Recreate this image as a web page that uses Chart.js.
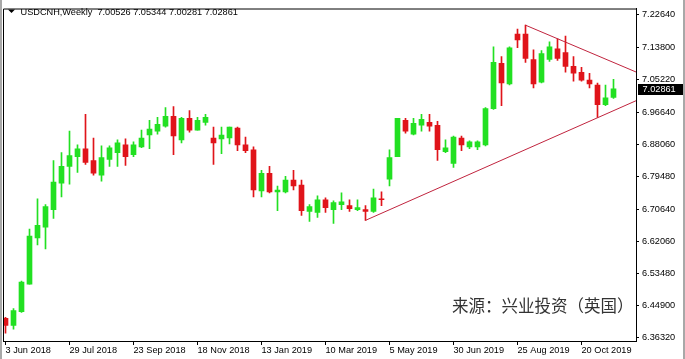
<!DOCTYPE html>
<html><head><meta charset="utf-8">
<script src="https://cdn.jsdelivr.net/npm/chart.js@4/dist/chart.umd.min.js"></script>
<style>html,body{margin:0;padding:0;background:#fff;overflow:hidden}#wrap{width:685px;height:359px;position:relative}</style>
</head><body><div id="wrap"><canvas id="c" width="685" height="359"></canvas></div>
<script>
// Weekly USDCNH candles, week of 3 Jun 2018 onward (index 0 = 3 Jun 2018)
const opens = [6.4148,6.3965,6.4332,6.5066,6.6297,6.6585,6.7057,6.7765,6.8210,6.8472,
6.8682,6.8368,6.7974,6.8394,6.8577,6.8787,6.8525,6.8734,6.9049,6.9154,
6.9285,6.9547,6.8918,6.9494,6.9180,6.9389,6.8970,6.8944,6.8970,6.9232,
6.8787,6.8656,6.7555,6.8027,6.7529,6.7529,6.7843,6.7712,6.7005,6.6979,
6.7319,6.7057,6.7188,6.7162,6.7057,6.7057,6.7005,6.7346,6.7870,6.8472,
6.9442,6.9075,6.9311,6.9389,6.9311,6.8603,6.8289,6.8970,6.8734,6.8734,
6.8787,6.9756,7.0962,7.0412,7.1748,7.1748,7.1066,7.0464,7.1066,7.1355,
7.1250,7.0883,7.0726,7.0516,7.0385,6.9861,7.00526];
const highs = [6.4175,6.4411,6.5144,6.6533,6.7346,6.7188,6.8368,6.8577,6.9154,6.8787,
6.9599,6.8970,6.8761,6.8761,6.8918,6.8944,6.8865,6.9180,6.9442,6.9520,
6.9782,6.9809,6.9520,6.9704,6.9520,6.9599,6.9258,6.9258,6.9258,6.9258,
6.8996,6.8734,6.8106,6.8210,6.7686,6.7948,6.8106,6.7843,6.7188,6.7424,
6.7372,6.7293,6.7503,6.7319,6.7319,6.7162,6.7608,6.7529,6.8656,6.9494,
6.9494,6.9494,6.9599,6.9599,6.9416,6.8918,6.9023,6.9023,6.8892,6.8892,
6.9782,7.1407,7.1145,7.1407,7.1879,7.1984,7.1328,7.1302,7.1538,7.1617,
7.1695,7.1145,7.0857,7.0700,7.0438,7.0385,7.05344];
const lows = [6.3755,6.3860,6.4306,6.5066,6.6114,6.6009,6.6821,6.7398,6.7739,6.8053,
6.8263,6.7974,6.7817,6.8210,6.8210,6.8237,6.8472,6.8708,6.8682,6.9075,
6.9258,6.8525,6.8839,6.9127,6.9180,6.9311,6.8263,6.8551,6.8813,6.8630,
6.8577,6.7398,6.7398,6.7503,6.7031,6.7503,6.7581,6.6900,6.6743,6.6848,
6.6979,6.6690,6.7057,6.7005,6.7031,6.6769,6.6979,6.7162,6.7686,6.8472,
6.9101,6.9049,6.9154,6.9154,6.8368,6.8577,6.8184,6.8630,6.8682,6.8656,
6.8761,6.9730,6.9835,7.0385,7.1381,7.0988,7.0307,7.0438,7.1014,7.1040,
7.0726,7.0490,7.0490,7.0307,6.9520,6.9835,7.00281];
const closes = [6.3965,6.4358,6.5118,6.6350,6.6638,6.7136,6.7791,6.8210,6.8499,6.8682,
6.8315,6.8027,6.8446,6.8708,6.8839,6.8472,6.8787,6.8970,6.9206,6.9337,
6.9547,6.9023,6.9494,6.9180,6.9442,6.9520,6.8839,6.9049,6.9258,6.8787,
6.8630,6.7581,6.8027,6.7529,6.7581,6.7843,6.7686,6.7031,6.7136,6.7319,
6.7110,6.7241,6.7267,6.7083,6.7110,6.7005,6.7372,6.7319,6.8446,6.9494,
6.9154,6.9363,6.9468,6.9285,6.8656,6.8708,6.8996,6.8787,6.8865,6.8865,
6.9756,7.0988,7.0438,7.1381,7.1591,7.1093,7.0412,7.1224,7.1407,7.1093,
7.0883,7.0700,7.0516,7.0412,6.9861,7.0044,7.02861];

const xTickIndex = [0,8,16,24,32,40,48,56,64,72];
const xTickLabels = ['3 Jun 2018','29 Jul 2018','23 Sep 2018','18 Nov 2018','13 Jan 2019','10 Mar 2019','5 May 2019','30 Jun 2019','25 Aug 2019','20 Oct 2019'];
const yTickValues = [7.2264,7.1380,7.0522,6.9664,6.8806,6.7948,6.7064,6.6206,6.5348,6.4490,6.3632];
const upperTrend = [{x:65,y:7.1984},{x:79.2,y:7.0698}];
const lowerTrend = [{x:45,y:6.6769},{x:79.2,y:7.0002}];
const symbolTitle = 'USDCNH,Weekly';
const sourceText = '来源：兴业投资（英国）';

const UP = '#22e022', DOWN = '#e0141a', TREND = '#c0243e';
const FONT = {family: '"Liberation Sans", Arial, sans-serif', size: 9.2};
const idx = opens.map((_, i) => i);
const colors = idx.map(i => closes[i] >= opens[i] ? UP : DOWN);
const last = closes.length - 1;

const decor = {
  id: 'decor',
  afterDraw(chart) {
    const {ctx, chartArea: a, scales} = chart;
    ctx.save();
    ctx.fillStyle = '#a8a8a8';
    ctx.fillRect(0, 0, 2, 359);
    ctx.fillRect(683, 0, 2, 359);
    ctx.strokeStyle = '#000'; ctx.lineWidth = 1;
    ctx.beginPath();
    ctx.moveTo(a.left + 0.5, a.bottom + 0.5);
    ctx.lineTo(a.left + 0.5, a.top + 0.5);
    ctx.lineTo(a.right + 0.5, a.top + 0.5);
    ctx.stroke();
    ctx.fillStyle = '#000';
    ctx.beginPath();
    ctx.moveTo(8, 9.5); ctx.lineTo(15, 9.5); ctx.lineTo(11.5, 13); ctx.closePath(); ctx.fill();
    ctx.font = FONT.size + 'px ' + FONT.family;
    ctx.textBaseline = 'alphabetic'; ctx.textAlign = 'left';
    const hdr = symbolTitle + '  ' + [opens[last], highs[last], lows[last], closes[last]].map(v => v.toFixed(5)).join(' ');
    ctx.fillText(hdr, 20.5, 14.5);
    ctx.font = '16.5px "Noto Sans CJK SC", sans-serif';
    ctx.fillStyle = '#333';
    ctx.textBaseline = 'middle';
    ctx.fillText(sourceText, 452, 305.5);
    const py = scales.y.getPixelForValue(closes[last]);
    ctx.fillStyle = '#000';
    ctx.fillRect(638, Math.round(py) - 5, 45, 11);
    ctx.fillStyle = '#fff';
    ctx.font = FONT.size + 'px ' + FONT.family;
    ctx.textBaseline = 'middle';
    ctx.fillText(closes[last].toFixed(5), 642.5, py + 0.5);
    ctx.restore();
  }
};

new Chart(document.getElementById('c'), {
  type: 'bar',
  data: {
    datasets: [
      {type: 'line', data: upperTrend, borderColor: TREND, borderWidth: 1, pointRadius: 0, order: 0, tension: 0},
      {type: 'line', data: lowerTrend, borderColor: TREND, borderWidth: 1, pointRadius: 0, order: 0, tension: 0},
      {data: idx.map(i => ({x: i, y: [opens[i], closes[i]]})), backgroundColor: colors, barThickness: 5, grouped: false, minBarLength: 1, borderWidth: 0, order: 1},
      {data: idx.map(i => ({x: i, y: [lows[i], highs[i]]})), backgroundColor: colors, barThickness: 1, grouped: false, borderWidth: 0, order: 2}
    ]
  },
  options: {
    responsive: false, animation: false, devicePixelRatio: 1,
    layout: {padding: {left: 3, top: 2, right: 0, bottom: 0}},
    plugins: {legend: {display: false}, tooltip: {enabled: false}, title: {display: false}},
    scales: {
      x: {
        type: 'linear', offset: false, min: -0.3125, max: 78.8125,
        afterBuildTicks: s => { s.ticks = xTickIndex.map(v => ({value: v})); },
        afterFit: s => { s.height = 18; },
        grid: {offset: false, drawOnChartArea: false, drawTicks: true, tickLength: 4, tickColor: '#000'},
        border: {display: true, color: '#000', width: 1},
        ticks: {autoSkip: false, maxRotation: 0, align: 'start', padding: 0, color: '#000', font: FONT,
          callback: v => xTickLabels[xTickIndex.indexOf(v)] || ''}
      },
      y: {
        type: 'linear', position: 'right', min: 6.35455, max: 7.24291,
        afterBuildTicks: s => { s.ticks = yTickValues.map(v => ({value: v})); },
        afterFit: s => { s.width = 49; },
        grid: {drawOnChartArea: false, drawTicks: true, tickLength: 3, tickColor: '#000'},
        border: {display: true, color: '#000', width: 1},
        ticks: {padding: 3, color: '#000', font: FONT, callback: v => Number(v).toFixed(5)}
      }
    }
  },
  plugins: [decor]
});
</script></body></html>
